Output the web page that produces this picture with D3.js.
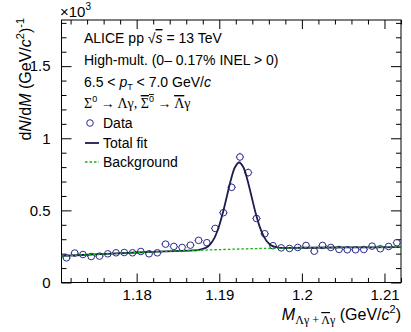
<!DOCTYPE html>
<html>
<head>
<meta charset="utf-8">
<script src="https://cdn.jsdelivr.net/npm/d3@7"></script>
<style>
body { margin: 0; background: #fff; }
text { font-family: "Liberation Sans", Arial, sans-serif; fill: #000; }
.greek { font-family: "Liberation Serif", "DejaVu Serif", serif; }
</style>
</head>
<body>
<svg id="chart" width="411" height="332"></svg>
<script>
// invariant mass bin centres (GeV/c^2)
var binCenters = [1.1715, 1.1725, 1.1735, 1.1745, 1.1755, 1.1765, 1.1775, 1.1785, 1.1795, 1.1805,
	1.1815, 1.1825, 1.1835, 1.1845, 1.1855, 1.1865, 1.1875, 1.1885, 1.1895, 1.1905,
	1.1915, 1.1925, 1.1935, 1.1945, 1.1955, 1.1965, 1.1975, 1.1985, 1.1995, 1.2005,
	1.2015, 1.2025, 1.2035, 1.2045, 1.2055, 1.2065, 1.2075, 1.2085, 1.2095, 1.2105, 1.2115];
// counts, x10^3
var counts = [0.171, 0.204, 0.194, 0.180, 0.183, 0.199, 0.206, 0.208, 0.206, 0.215,
	0.199, 0.206, 0.266, 0.250, 0.243, 0.259, 0.292, 0.276, 0.375, 0.484,
	0.660, 0.870, 0.762, 0.444, 0.338, 0.255, 0.240, 0.236, 0.243, 0.257,
	0.217, 0.257, 0.243, 0.229, 0.227, 0.227, 0.229, 0.252, 0.234, 0.250, 0.276];
var countErrors = [0.013, 0.014, 0.014, 0.013, 0.014, 0.014, 0.014, 0.014, 0.014, 0.015,
	0.014, 0.014, 0.016, 0.016, 0.016, 0.016, 0.017, 0.017, 0.019, 0.022,
	0.026, 0.030, 0.028, 0.021, 0.018, 0.016, 0.015, 0.015, 0.016, 0.016,
	0.015, 0.016, 0.016, 0.015, 0.015, 0.015, 0.015, 0.016, 0.015, 0.016, 0.017];
var binHalfWidth = 0.0005;

// background curve
var bgMass = [1.1709, 1.175, 1.18, 1.185, 1.19, 1.195, 1.2, 1.205, 1.212];
var bgValue = [0.184, 0.195, 0.208, 0.219, 0.228, 0.236, 0.241, 0.243, 0.245];

// total fit curve
var fitMass = [1.1709, 1.175, 1.18, 1.1864, 1.1869, 1.1874, 1.1879, 1.1884, 1.1889, 1.1894,
	1.1899, 1.1904, 1.1909, 1.1914, 1.1919, 1.1924, 1.1929, 1.1934, 1.1939, 1.1944,
	1.1949, 1.1954, 1.1959, 1.1964, 1.1969, 1.1974, 1.1984, 1.2, 1.205, 1.212];
var fitValue = [0.184, 0.195, 0.208, 0.2215, 0.223, 0.225, 0.231, 0.242, 0.265, 0.308,
	0.378, 0.476, 0.593, 0.710, 0.799, 0.832, 0.801, 0.713, 0.598, 0.482,
	0.386, 0.318, 0.276, 0.254, 0.245, 0.240, 0.2394, 0.241, 0.243, 0.245];

var xMajor = [1.18, 1.19, 1.2, 1.21];
var xMinor = [1.172, 1.174, 1.176, 1.178, 1.182, 1.184, 1.186, 1.188, 1.192, 1.194, 1.196, 1.198,
	1.202, 1.204, 1.206, 1.208, 1.212];
var yMajor = [0, 0.5, 1, 1.5];
var yMinor = [0.1, 0.2, 0.3, 0.4, 0.6, 0.7, 0.8, 0.9, 1.1, 1.2, 1.3, 1.4, 1.6, 1.7, 1.8];
var xDomain = [1.1709, 1.212];
var yDomain = [0, 1.82];

var DATA_COLOR = "#2c2c8c";
var FIT_COLOR = "#1c1c4e";
var BG_COLOR = "#12b012";

var svg = d3.select("#chart");
var L = 61.5, R = 401, T = 20, B = 282.5;

var x = d3.scaleLinear().domain(xDomain).range([L, R]);
var y = d3.scaleLinear().domain(yDomain).range([B, T]);

function fmt(d) { return String(d); }

// axes, ticks pointing inward, mirrored on top/right
function addAxis(axis, tr, vals, size, labels) {
	var g = svg.append("g").attr("transform", tr)
		.call(axis.tickValues(vals).tickSizeInner(-size).tickSizeOuter(0)
			.tickFormat(labels ? fmt : ""));
	g.select(".domain").remove();
	g.selectAll("line").attr("stroke", "#000").attr("stroke-width", 1);
	g.selectAll("text").attr("font-size", 15).attr("font-family", "Liberation Sans, Arial, sans-serif").attr("fill", "#000");
	return g;
}
addAxis(d3.axisBottom(x).tickPadding(7), "translate(0," + B + ")", xMajor, 9, true);
addAxis(d3.axisBottom(x), "translate(0," + B + ")", xMinor, 4.5, false);
addAxis(d3.axisTop(x), "translate(0," + T + ")", xMajor, 9, false);
addAxis(d3.axisTop(x), "translate(0," + T + ")", xMinor, 4.5, false);
addAxis(d3.axisLeft(y).tickPadding(11), "translate(" + L + ",0)", yMajor, 10, true);
addAxis(d3.axisLeft(y), "translate(" + L + ",0)", yMinor, 5, false);
addAxis(d3.axisRight(y), "translate(" + R + ",0)", yMajor, 10, false);
addAxis(d3.axisRight(y), "translate(" + R + ",0)", yMinor, 5, false);

// frame
svg.append("rect")
	.attr("x", L).attr("y", T)
	.attr("width", R - L).attr("height", B - T)
	.attr("fill", "none").attr("stroke", "#000").attr("stroke-width", 1);

// x10^3 multiplier
var mult = svg.append("text").attr("x", 60).attr("y", 17).attr("font-size", 15);
mult.append("tspan").text("\u00d710");
mult.append("tspan").attr("font-size", 10).attr("dy", -7).text("3");

// data points
var R_MARK = 3.3;
var pts = svg.append("g").selectAll(".pt")
	.data(binCenters.map(function(m, i) { return {m: m, v: counts[i], e: countErrors[i]}; }))
	.enter().append("g").classed("pt", true)
	.attr("transform", function(d) { return "translate(" + x(d.m) + "," + y(d.v) + ")"; });
pts.append("line")
	.attr("x1", function(d) { return x(d.m - binHalfWidth) - x(d.m); })
	.attr("x2", -R_MARK).attr("y1", 0).attr("y2", 0);
pts.append("line")
	.attr("x1", R_MARK).attr("x2", function(d) { return x(d.m + binHalfWidth) - x(d.m); })
	.attr("y1", 0).attr("y2", 0);
pts.append("line")
	.attr("x1", 0).attr("x2", 0).attr("y1", -R_MARK)
	.attr("y2", function(d) { return Math.min(-R_MARK, y(d.v + d.e) - y(d.v)); });
pts.append("line")
	.attr("x1", 0).attr("x2", 0).attr("y1", R_MARK)
	.attr("y2", function(d) { return Math.max(R_MARK, y(d.v - d.e) - y(d.v)); });
pts.selectAll("line").attr("stroke", DATA_COLOR).attr("stroke-width", 1);
pts.append("circle").attr("r", R_MARK)
	.attr("fill", "none").attr("stroke", DATA_COLOR).attr("stroke-width", 1);

// total fit
var fitLine = d3.line().curve(d3.curveCatmullRom)
	.x(function(d, i) { return x(fitMass[i]); })
	.y(function(d) { return y(d); });
svg.append("path").datum(fitValue)
	.attr("d", fitLine)
	.attr("fill", "none").attr("stroke", FIT_COLOR).attr("stroke-width", 1.8);

// background
var bgLine = d3.line().curve(d3.curveMonotoneX)
	.x(function(d, i) { return x(bgMass[i]); })
	.y(function(d) { return y(d); });
svg.append("path").datum(bgValue)
	.attr("d", bgLine)
	.attr("fill", "none").attr("stroke", BG_COLOR).attr("stroke-width", 1.3)
	.attr("stroke-dasharray", "2.5,2");

// header texts
var tx = 84;
var t1 = svg.append("text").attr("x", tx).attr("y", 43).attr("font-size", 14);
t1.append("tspan").text("ALICE pp \u221a");
t1.append("tspan").attr("font-style", "italic").style("text-decoration", "overline").text("s");
t1.append("tspan").text(" = 13 TeV");

svg.append("text").attr("x", tx).attr("y", 65).attr("font-size", 14)
	.text("High-mult. (0\u2013 0.17% INEL > 0)");

var t3 = svg.append("text").attr("x", tx).attr("y", 87).attr("font-size", 14);
t3.append("tspan").text("6.5 < ");
t3.append("tspan").attr("font-style", "italic").text("p");
t3.append("tspan").attr("font-size", 9).attr("dy", 3).text("T");
t3.append("tspan").attr("dy", -3).text(" < 7.0 GeV/");
t3.append("tspan").attr("font-style", "italic").text("c");

var t4 = svg.append("text").attr("x", tx).attr("y", 108).attr("font-size", 14);
t4.append("tspan").attr("class", "greek").text("\u03a3");
t4.append("tspan").attr("font-size", 9).attr("dy", -6).text("0");
t4.append("tspan").attr("class", "greek").attr("dy", 6).text(" \u2192 \u039b\u03b3, ");
t4.append("tspan").attr("class", "greek").style("text-decoration", "overline").text("\u03a3");
t4.append("tspan").attr("font-size", 9).attr("dy", -6).style("text-decoration", "overline").text("0");
t4.append("tspan").attr("class", "greek").attr("dy", 6).text(" \u2192 ");
t4.append("tspan").attr("class", "greek").style("text-decoration", "overline").text("\u039b");
t4.append("tspan").attr("class", "greek").text("\u03b3");

// legend
var legend = svg.append("g");
legend.append("circle").attr("cx", 90).attr("cy", 123).attr("r", R_MARK)
	.attr("fill", "none").attr("stroke", DATA_COLOR).attr("stroke-width", 1);
legend.append("text").attr("x", 103).attr("y", 128).attr("font-size", 14).text("Data");
legend.append("line").attr("x1", 85).attr("x2", 99).attr("y1", 143).attr("y2", 143)
	.attr("stroke", FIT_COLOR).attr("stroke-width", 1.8);
legend.append("text").attr("x", 103).attr("y", 148).attr("font-size", 14).text("Total fit");
legend.append("line").attr("x1", 85).attr("x2", 99).attr("y1", 162).attr("y2", 162)
	.attr("stroke", BG_COLOR).attr("stroke-width", 1.3).attr("stroke-dasharray", "2.5,2");
legend.append("text").attr("x", 103).attr("y", 167).attr("font-size", 14).text("Background");

// x axis title
var xt = svg.append("text").attr("x", R).attr("y", 320).attr("font-size", 16).attr("text-anchor", "end");
xt.append("tspan").attr("font-style", "italic").text("M");
xt.append("tspan").attr("class", "greek").attr("font-size", 12).attr("dy", 4).text("\u039b\u03b3 + ");
xt.append("tspan").attr("class", "greek").attr("font-size", 12).style("text-decoration", "overline").text("\u039b");
xt.append("tspan").attr("class", "greek").attr("font-size", 12).text("\u03b3");
xt.append("tspan").attr("dy", -4).text(" (GeV/");
xt.append("tspan").attr("font-style", "italic").text("c");
xt.append("tspan").attr("font-size", 11).attr("dy", -7).text("2");
xt.append("tspan").attr("dy", 7).text(")");

// y axis title
var yt = svg.append("text").attr("font-size", 16).attr("text-anchor", "end")
	.attr("transform", "translate(31,18) rotate(-90)");
yt.append("tspan").text("d");
yt.append("tspan").attr("font-style", "italic").text("N");
yt.append("tspan").text("/d");
yt.append("tspan").attr("font-style", "italic").text("M");
yt.append("tspan").text(" (GeV/");
yt.append("tspan").attr("font-style", "italic").text("c");
yt.append("tspan").attr("font-size", 11).attr("dy", -7).text("2");
yt.append("tspan").attr("dy", 7).text(")");
yt.append("tspan").attr("font-size", 11).attr("dy", -7).text("-1");
</script>
</body>
</html>
